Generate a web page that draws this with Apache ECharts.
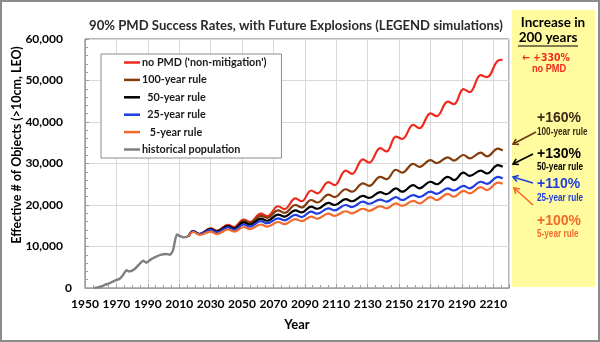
<!DOCTYPE html>
<html>
<head>
<meta charset="utf-8">
<script src="https://cdn.jsdelivr.net/npm/echarts@6/dist/echarts.min.js"></script>
<style>
  html, body { margin: 0; padding: 0; background: #fff; }
  #chart { width: 600px; height: 342px; }
</style>
</head>
<body>
<div id="chart"></div>
<script>
// ---- data ----
const futureYears = [2016, 2019, 2023, 2030, 2034, 2041, 2045, 2051, 2055, 2062, 2066, 2073, 2077, 2084, 2088, 2094, 2098, 2105, 2109, 2116, 2120, 2127, 2131, 2138, 2142, 2148, 2152, 2159, 2163, 2170, 2174, 2181, 2185, 2191, 2195, 2202, 2206, 2213, 2216];
const noPMD   = [12500, 13700, 13000, 14400, 13800, 15200, 14700, 16500, 15900, 17900, 17300, 19700, 19000, 21600, 20900, 23500, 22800, 25500, 24800, 28300, 27500, 31000, 30200, 33700, 32900, 36500, 35900, 39300, 38500, 42100, 41400, 44900, 44300, 47900, 47200, 51300, 50800, 54800, 55000];
const rule100 = [12500, 13700, 13000, 14300, 13700, 15000, 14500, 16200, 15700, 17400, 16900, 18700, 18100, 20000, 19400, 21200, 20600, 22500, 21900, 23800, 23200, 25200, 24600, 26800, 26200, 28500, 27800, 29900, 29200, 30800, 30100, 31500, 30700, 32050, 31250, 32600, 31700, 33600, 33100];
const rule50  = [12500, 13700, 13000, 14200, 13600, 14900, 14300, 15800, 15300, 16700, 16200, 17700, 17200, 18700, 18200, 19600, 19100, 20500, 20000, 21400, 20900, 22200, 21700, 23100, 22600, 24000, 23200, 24800, 24000, 25600, 25000, 26800, 26000, 27800, 27000, 28300, 27600, 29600, 29200];
const rule25  = [12500, 13700, 13000, 14000, 13400, 14600, 14000, 15300, 14800, 16100, 15600, 16800, 16300, 17600, 17100, 18400, 17900, 19200, 18700, 20000, 19500, 20800, 20300, 21300, 20800, 21900, 21200, 22400, 21900, 23200, 22700, 24000, 23500, 24600, 24000, 25600, 25100, 26800, 26400];
const rule5   = [12400, 13500, 12800, 13600, 13000, 14100, 13600, 14700, 14200, 15300, 14800, 15900, 15400, 16600, 16100, 17200, 16700, 17900, 17400, 18500, 18000, 19100, 18600, 19700, 19200, 20400, 19800, 21000, 20400, 21900, 21200, 22700, 22000, 23400, 22800, 24300, 23600, 25400, 25100];
const histYears  = [1956, 1957, 1960, 1963, 1966, 1969, 1972, 1974, 1976.5, 1978, 1980, 1982, 1985, 1987, 1989, 1992, 1995, 1998, 2002, 2004, 2006, 2007, 2008.5, 2010.5, 2013, 2016];
const historical = [0, 100, 300, 800, 1200, 1800, 2200, 3000, 4300, 4000, 4200, 4700, 5900, 6600, 6100, 6900, 7500, 8000, 8200, 8000, 9000, 10800, 12900, 12500, 12200, 12500];

const seriesNames = ["no PMD ('non-mitigation')", "100-year rule", "  50-year rule", "  25-year rule", "   5-year rule", "historical population"];
const seriesColors = ['#ee2a1e', '#843c0c', '#000000', '#1e3ee0', '#f26a2c', '#7f7f7f'];
const xStart = 1950, xEnd = 2220, xStep = 20;
const yMax = 60000, yStep = 10000;

const pair = (xs, ys) => xs.map((x, i) => [x, ys[i]]);
const futureSets = [noPMD, rule100, rule50, rule25, rule5];

function arrow(x1, y1, x2, y2, color) {
  const a = Math.atan2(y2 - y1, x2 - x1), L = 6, w = 0.55;
  return {
    type: 'group', children: [
      { type: 'line', shape: { x1, y1, x2, y2 }, style: { stroke: color, lineWidth: 1.6 } },
      { type: 'polyline', shape: { points: [[x2 - L * Math.cos(a - w), y2 - L * Math.sin(a - w)], [x2, y2], [x2 - L * Math.cos(a + w), y2 - L * Math.sin(a + w)]] }, style: { stroke: color, lineWidth: 1.6, fill: null } }
    ]
  };
}
function txt(x, y, text, size, color, align, family, sx, weight) {
  return { type: 'text', x, y, scaleX: sx || 1, style: { text, fontSize: size, fontWeight: weight || 'bold', fill: color, align: align || 'center', verticalAlign: 'middle', fontFamily: family || 'Lato' } };
}

const chart = echarts.init(document.getElementById('chart'), null, { renderer: 'canvas' });
const series = futureSets.map((d, i) => ({
  name: seriesNames[i], type: 'line', xAxisIndex: 0, yAxisIndex: 0,
  data: pair(futureYears, d), smooth: 0.4, symbol: 'none',
  lineStyle: { color: seriesColors[i], width: 2.2 }, itemStyle: { color: seriesColors[i] },
  z: 3 + i
}));
series.unshift({
  name: seriesNames[5], type: 'line', xAxisIndex: 0, yAxisIndex: 0,
  data: pair(histYears, historical), smooth: 0.2, symbol: 'none',
  lineStyle: { color: seriesColors[5], width: 2.4 }, itemStyle: { color: seriesColors[5] }, z: 2
});

const lineIcon = 'path://M0,0H16V2.5H0Z';
chart.setOption({
  animation: false,
  backgroundColor: '#ffffff',
  grid: { left: 85, right: 91, top: 39, bottom: 54, show: true, borderColor: '#6e6e6e', borderWidth: 1, backgroundColor: '#fff' },
  legend: {
    data: seriesNames.map(n => ({ name: n, icon: lineIcon })), orient: 'vertical', left: 101, top: 54,
    backgroundColor: '#fff', borderColor: '#8c8c8c', borderWidth: 1,
    padding: [3, 15, 3, 23], itemGap: 6.4, itemWidth: 16, itemHeight: 12, symbolKeepAspect: true,
    textStyle: { fontFamily: 'Lato', fontWeight: 'bold', fontSize: 10.8, color: '#1a1a1a', padding: [0, 0, 0, -3] }
  },
  xAxis: [
    { type: 'value', min: xStart, max: xEnd, show: false },
    { type: 'value', min: 0, max: xEnd - xStart, interval: xStep, position: 'bottom',
      axisLine: { show: true, lineStyle: { color: '#a0a0a0' } },
      axisTick: { show: true, inside: true, length: 4, lineStyle: { color: '#a0a0a0' } },
      minorTick: { show: true, splitNumber: 4, length: 3, lineStyle: { color: '#a0a0a0' } },
      splitLine: { show: true, lineStyle: { color: '#d9d9d9', width: 1 } },
      axisLabel: { showMaxLabel: false, margin: 10, fontFamily: 'Lato', fontWeight: 'bold', fontSize: 12, color: '#000',
        formatter: v => (v + xStart) >= xEnd ? '' : String(v + xStart) } }
  ],
  yAxis: {
    type: 'value', min: 0, max: yMax, interval: yStep,
    axisLine: { show: true, lineStyle: { color: '#a0a0a0' } },
    axisTick: { show: true, inside: true, length: 4, lineStyle: { color: '#a0a0a0' } },
    minorTick: { show: true, splitNumber: 5, length: 3, lineStyle: { color: '#a0a0a0' } },
    splitLine: { show: true, lineStyle: { color: '#d9d9d9', width: 1 } },
    axisLabel: { margin: 13, fontFamily: 'Lato', fontWeight: 'bold', fontSize: 12, color: '#000',
      formatter: v => v === 0 ? '0' : '{a|' + v.toLocaleString('en-US') + '}',
      rich: { a: { fontFamily: 'Lato', fontWeight: 'bold', fontSize: 12, color: '#000', padding: [0, 9, 0, 0] } } }
  },
  series,
  graphic: [
    { type: 'rect', shape: { x: 1, y: 1, width: 598, height: 340 }, style: { fill: null, stroke: '#8c8c8c', lineWidth: 2 }, z: 100 },
    { type: 'rect', shape: { x: 512, y: 10, width: 83, height: 277 }, style: { fill: '#fffb9e', stroke: null } },
    txt(296, 26, '90% PMD Success Rates, with Future Explosions (LEGEND simulations)', 13.1, '#2a2a2a', 'center', 'Lato', 1, 'bold'),
    { type: 'text', x: 17, y: 145, rotation: Math.PI / 2, style: { text: 'Effective # of Objects (>10cm, LEO)', fontSize: 12.5, fontWeight: 'bold', fill: '#000', align: 'center', verticalAlign: 'middle', fontFamily: 'Lato' } },
    txt(297, 325, 'Year', 13, '#000', 'center'),
    txt(553, 23, 'Increase in', 13.5, '#000', 'center'),
    txt(548, 38, '200 years', 13.5, '#000', 'center'),
    { type: 'line', shape: { x1: 518, y1: 46, x2: 578, y2: 46 }, style: { stroke: '#000', lineWidth: 1.2 } },
    txt(522, 58, '\u2190 +330%', 11, '#ee2a1e', 'left', 'DejaVu Sans', 0.85),
    txt(549, 69, 'no PMD', 10, '#ee2a1e', 'center', 'Liberation Sans', 0.92),
    txt(537, 118, '+160%', 14, '#3d2a14', 'left', 'Liberation Sans'),
    txt(537, 132, '100-year rule', 10, '#3d2a14', 'left', 'Liberation Sans', 0.82),
    txt(537, 154, '+130%', 14, '#000', 'left', 'Liberation Sans'),
    txt(537, 167, '50-year rule', 10, '#000', 'left', 'Liberation Sans', 0.82),
    txt(537, 184, '+110%', 14, '#1e3ee0', 'left', 'Liberation Sans'),
    txt(537, 198, '25-year rule', 10, '#1e3ee0', 'left', 'Liberation Sans', 0.82),
    txt(537, 221, '+100%', 14, '#f26a2c', 'left', 'Liberation Sans'),
    txt(537, 234, '5-year rule', 10, '#f26a2c', 'left', 'Liberation Sans', 0.82),
    arrow(536, 132, 513, 144, '#6b3a14'),
    arrow(533, 154, 513, 164, '#000'),
    arrow(533, 183, 513, 177, '#1e3ee0'),
    arrow(533, 205, 514, 188, '#f26a2c')
  ]
});
</script>
</body>
</html>
